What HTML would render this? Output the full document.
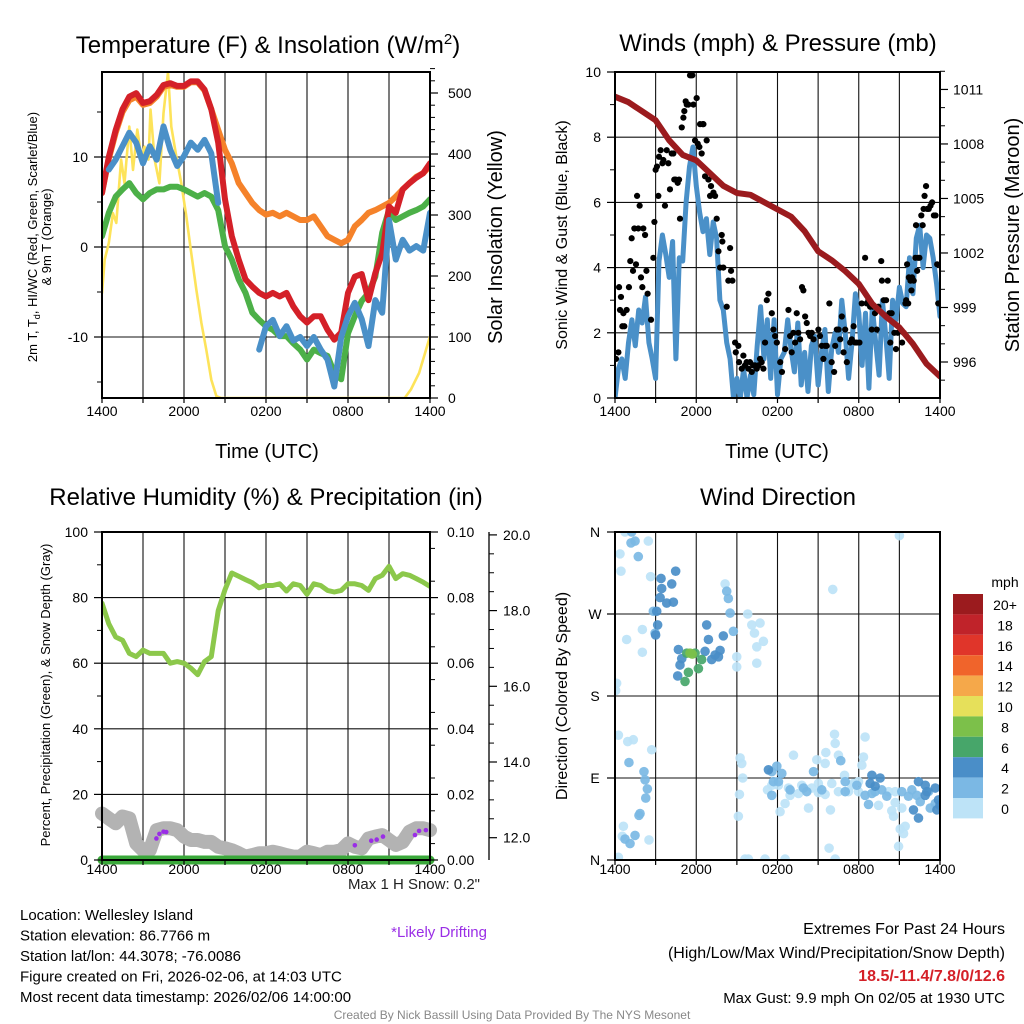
<!DOCTYPE html>
<html><head><meta charset="utf-8">
<style>
html,body{margin:0;padding:0;background:#fff;}
svg{display:block;font-family:"Liberation Sans",Arial,sans-serif;}
</style></head>
<body>
<svg id="c" width="1024" height="1024" viewBox="0 0 1024 1024" xmlns="http://www.w3.org/2000/svg"></svg>
<script>
// ---------- DATA ----------
const tRed=[6,10,13,15.3,16.7,17.1,16,16.2,16.9,18,18.2,17.9,17.9,18.4,18.4,17.5,15.3,11.6,5.3,1.2,-1.4,-3.6,-4.4,-5.1,-5.5,-5.1,-5.5,-5.1,-6.6,-7.7,-8.4,-7.7,-7.7,-9.2,-10.3,-9.5,-5.1,-3.3,-3,-5.9,-2.9,-0.7,4.5,3.8,6.4,7.1,7.7,8.2,9.3];
const tOrange=[6,9.8,12.7,15,16.3,16.7,15.8,16,16.7,17.8,18,17.8,17.8,18.3,18.3,17.4,15.3,13,10.8,9.3,7.1,6,4.9,4.1,3.6,3.8,3.4,3.8,3.4,3,3,3.4,2.3,1.2,0.8,0.4,0.8,2.3,3,3.8,4.1,4.5,4.9,5.6,6.4,7.1,7.8,8.2,9];
const tGreen=[1.2,3.8,5.6,6.4,7.1,6,5.3,6,6.4,6.4,6.7,6.7,6.4,6,5.6,6,5.6,4.1,0.1,-1.4,-3.6,-5.1,-7.3,-8.1,-8.8,-9.2,-9.9,-9.9,-10.7,-11.4,-12.5,-11.4,-11.8,-12.1,-14,-14.7,-9.6,-7.7,-6,-5.1,-3.3,1.6,4.1,3,3.4,3.8,4.1,4.5,5.3];
const tBlue=[null,8.6,9.7,11.2,12.7,11.6,9.3,11.2,9.7,13.4,10.8,9,10.1,11.6,10.8,11.9,10.4,4.9,null,null,null,null,null,-11.4,-8.8,-8.1,-9.9,-8.8,-10.4,-10,-11,-10,-11.4,-12.5,-15.5,-10,-7.7,-6.2,-8,-11,-5.9,-7.3,3,-1.4,0.8,-0.4,0.1,-0.4,3.8];
const solHours=[0,0.2,0.5,0.8,1.05,1.4,1.65,2.0,2.27,2.58,2.9,3.1,3.4,3.55,3.85,4.2,4.5,4.83,5.07,5.44,5.8,6.17,6.5,6.9,7.27,7.63,8.0,8.37,8.7,22.15,22.6,23.2,24];
const solVals=[172,227,254,303,287,391,352,445,374,440,391,412,391,473,391,352,467,534,445,396,352,298,243,178,123,79,30,3,0,0,14,41,101];

const windSpd=[0,0.9,1.2,0.6,1.7,2.4,1.6,2.7,2.3,3.1,1.7,1.2,0.6,4.2,5,4.4,3.7,4.8,1.2,4.3,4.2,6,7.1,7.7,6.5,5.7,5.1,5.5,4.4,5.4,4.9,3,2.7,1.7,1.2,0,0.6,0,0.9,0,0.7,0.1,1.6,2.8,1.2,2.4,0.6,2.4,0.1,1.2,1.4,2.4,1.5,0.8,2.3,0.4,1.4,0.2,1.6,1.9,0.4,1.4,2.1,0.2,1.5,2,1.4,3,2,0.6,1.7,3.2,2.6,1,2.6,0.3,2.8,1.7,0.7,3,1.9,0.6,3,2.4,3.4,2.9,2.8,4.3,3.2,4.9,5.3,4.0,5,4.9,4.3,3.5,2.5];
const pHours=[0,1,2,3,4,5,6,7,8,9,10,11,12,13,14,15,16,17,18,19,20,21,22,23,24];
const pVals=[1010.6,1010.3,1009.8,1009.3,1008.2,1007.4,1007.1,1006.4,1005.7,1005.3,1005.2,1004.8,1004.4,1004,1003.2,1002.1,1001.6,1001,1000.3,999.2,998.5,997.9,997,995.9,995.2];
const gustHours=[0.07,0.25,0.3,0.37,0.44,0.54,0.62,0.69,0.86,1.03,1.13,1.23,1.33,1.43,1.55,1.63,1.72,1.82,1.92,2.02,2.09,2.22,2.32,2.41,2.66,2.83,2.91,3.0,3.1,3.2,3.25,3.37,3.5,3.57,3.69,3.82,3.94,4.06,4.19,4.31,4.38,4.48,4.63,4.73,4.8,4.93,5.05,5.12,5.22,5.3,5.42,5.54,5.62,5.71,5.79,5.91,6.03,6.11,6.23,6.28,6.4,6.48,6.53,6.65,6.77,6.9,7.02,7.09,7.19,7.27,7.39,7.51,7.64,7.76,7.88,7.93,8.0,8.25,8.37,8.5,8.57,8.67,8.87,8.92,9.11,9.16,9.36,9.48,9.6,9.72,9.85,9.97,10.1,10.2,10.34,10.47,10.6,10.71,10.83,10.96,11.08,11.21,11.33,11.58,11.7,11.82,11.95,12.2,12.33,12.57,12.81,12.93,13.05,13.17,13.3,13.42,13.54,13.67,13.81,13.91,14.04,14.16,14.29,14.41,14.53,14.66,15.02,15.14,15.27,15.39,15.51,15.64,15.83,16.0,16.18,16.26,16.38,16.51,16.63,16.75,16.88,17.0,17.12,17.37,17.49,17.62,17.74,17.86,18.05,18.22,18.47,18.59,18.71,18.84,18.96,19.03,19.2,19.33,19.45,19.66,19.71,19.85,20.02,20.14,20.26,20.33,20.43,20.63,20.75,20.88,21.2,21.32,21.45,21.5,21.57,21.65,21.7,21.82,21.89,21.94,22.06,22.18,22.23,22.31,22.38,22.48,22.62,22.72,22.79,22.86,22.97,23.05,23.17,23.3,23.42,23.55,23.67,23.79,23.87];
const gustVals=[1.2,1.4,3.4,2.7,3.1,2.2,2.6,2.2,2.7,3.4,4.2,4.9,3.9,5.2,4.1,6.2,5.2,5.9,3.7,3.4,5.2,5.0,3.9,3.2,2.4,4.3,5.4,7.0,7.1,6.2,7.4,7.6,7.2,7.3,5.9,7.6,7.2,6.4,7.5,7.5,6.7,6.7,6.6,6.7,5.5,8.3,8.6,8.8,9.1,9.0,9.0,9.9,9.9,9.9,9.0,7.9,9.2,7.8,7.7,8.4,7.5,8.4,8.4,6.8,7.9,6.7,6.2,6.5,6.8,6.3,6.2,5.5,4.5,4.0,5.0,4.8,4.0,2.8,3.6,4.6,3.9,3.6,1.7,1.4,1.6,1.1,0.9,1.3,1.0,1.1,0.9,1.1,0.8,1.0,1.0,0.9,1.0,1.2,1.1,0.9,1.7,3.0,3.2,2.6,2.1,1.9,1.7,1.1,0.8,1.5,2.7,1.9,1.4,2.0,1.7,2.6,2.0,1.8,3.4,3.3,2.5,2.3,2.0,1.9,2.0,1.8,2.1,1.9,1.6,1.2,1.6,1.6,2.9,1.1,0.8,1.6,2.1,2.1,1.8,2.5,1.4,2.1,1.1,1.7,1.8,2.2,1.7,1.7,1.7,2.9,4.3,2.9,3.0,2.8,2.1,2.8,2.6,2.1,2.8,4.2,3.6,3.0,3.0,3.6,2.6,1.7,2.6,2.0,1.5,2.0,1.7,2.0,2.9,3.0,4.1,2.9,3.7,3.6,3.3,3.7,3.6,4.3,5.3,3.9,4.3,4.3,5.6,5.3,5.8,6.2,6.5,5.8,5.8,5.9,6.0,5.6,5.6,4.1,2.9];

const rhVals=[78.3,72,68,67,63,62,64,63,63,63,60,60.5,60,58.5,56.5,60.5,62,76,82.4,87.5,86.5,85.5,84.5,83,83.7,83.7,84.2,82,84.2,83.7,81,84.2,83.7,82.2,81.7,82.2,84.2,84.2,83.7,82.2,85.8,86.8,89.5,85.8,87.3,86.8,85.8,84.7,83.4];
const precipVals=[0,0,0,0,0,0,0,0,0,0,0,0,0,0,0,0,0,0,0,0,0,0,0,0,0,0,0,0,0,0,0,0,0,0,0,0,0,0,0,0,0,0,0,0,0,0,0,0,0];
const snowVals=[12.64,12.51,12.38,12.56,12.51,11.85,11.67,11.67,12.2,12.25,12.25,12.2,12.03,11.94,11.94,11.89,11.89,11.76,11.72,11.67,11.59,11.5,11.54,11.59,11.59,11.63,11.59,11.54,11.5,11.5,11.63,11.59,11.54,11.63,11.63,11.67,11.85,11.76,11.72,11.98,12.03,12.07,11.94,11.81,11.89,12.16,12.25,12.25,12.2];
const driftHours=[3.98,4.2,4.5,4.7,18.5,19.7,20.1,20.56,22.9,23.2,23.7];
const driftVals=[11.98,12.1,12.16,12.15,11.8,11.92,11.95,12.03,12.07,12.18,12.2];

const dirHours=[0.74,0.37,0.44,2.46,2.63,2.02,0.86,2.02,8.13,9.8,10.1,10.71,10.3,10.96,10.47,10.47,8.99,8.99,0.12,0.05,0.25,0.94,1.35,2.71,9.24,9.36,9.43,9.19,9.11,0.62,0.54,2.51,0.25,0,9.6,9.85,11.08,12.56,16.26,16.08,21.0,13.18,12.19,12.56,12.93,13.55,14.29,15.02,15.52,16.01,15.91,16.21,16.26,15.57,14.9,15.52,16.5,16.95,17.61,17.98,18.23,18.47,18.35,17.98,19.46,20.44,20.57,20.69,21.06,21.43,21.31,20.94,15.81,11.58,11.26,12.07,12.81,13.79,14.53,15.02,16.5,17.24,17.49,20.2,20.69,21.18,
1.23,1.48,1.72,1.18,2.83,2.96,8.25,8.37,8.5,8.74,1.03,2.14,2.22,2.39,2.27,1.85,1.77,0.74,1.11,1.48,11.58,11.7,12.32,12.93,13.92,14.16,15.27,17.0,18.47,18.72,18.97,19.21,19.7,20.07,21.18,21.92,22.29,22.54,23.15,23.28,23.65,11.58,12.07,11.95,16.67,17.0,14.66,17.86,21.67,
3.4,4.19,3.45,3.33,3.82,4.31,3.08,3.15,3.0,4.48,6.77,6.9,8.0,7.14,7.39,7.76,7.64,6.65,4.68,4.93,4.8,4.63,11.33,18.97,19.58,22.41,22.91,23.65,23.03,23.89,23.77,24,22.41,22.04,18.84,19.21,22.91,
5.42,5.17,6.16,6.4,5.91,5.3,5.54,5.71];
const dirDeg=[360,336,317,350,311,253,242,228,303,270,258,260,249,240,234,216,223,212,194,186,137,130,132,121,112,106,90,72,48,37,26,22,3,1,1,1,1,1,1,297,356,115,53,62,71,73,57,74,72,84,55,138,128,118,110,106,115,93,84,86,104,135,113,75,60,54,48,63,34,37,29,15,13,82,77,82,79,82,79,84,75,75,82,75,75,57,
360,350,333,348,273,249,295,287,271,251,107,97,88,78,68,51,49,23,18,27,97,86,95,77,79,75,77,75,71,61,73,75,77,70,75,77,71,64,75,57,62,71,86,103,109,86,97,82,70,
309,303,298,288,282,283,273,258,247,317,258,242,246,220,225,230,223,229,231,221,214,202,99,93,90,86,82,79,75,66,55,60,46,55,84,81,71,
206,196,210,220,227,227,227,226];
const dirSpeed=[1,1,1,1,1,1,1,1,1,1,1,1,1,1,1,1,1,1,1,1,1,1,1,1,1,1,1,1,1,1,1,1,1,1,1,1,1,1,1,1,1,1,1,1,1,1,1,1,1,1,1,1,1,1,1,1,1,1,1,1,1,1,1,1,1,1,1,1,1,1,1,1,1,1,1,1,1,1,1,1,1,1,1,1,1,1,
3,3,3,3,3,3,3,3,3,3,3,3,3,3,3,3,3,3,3,3,3,3,3,3,3,3,3,3,3,3,3,3,3,3,3,3,3,3,3,3,3,3,3,3,3,3,3,3,3,
5,5,5,5,5,5,5,5,5,5,5,5,5,5,5,5,5,5,5,5,5,5,5,5,5,5,5,5,5,5,5,5,5,5,5,5,5,
7,7,7,7,7,7,9,9];
const cbLabels=["20+","18","16","14","12","10","8","6","4","2","0"];
const cbColors=["#9b1b1e","#c0232a","#e0352a","#f0642b","#f5a84a","#e6e05a","#7cc04a","#47a66a","#4a8ec8","#7bb8e4","#bde3f7"];
const timeLabels=["1400","2000","0200","0800","1400"];

// ---------- DRAW ----------
const NS="http://www.w3.org/2000/svg";
const svg=document.getElementById('c');
function mk(tag,attrs,parent){const e=document.createElementNS(NS,tag);for(const k in attrs)e.setAttribute(k,attrs[k]);(parent||svg).appendChild(e);return e;}
function txt(s,x,y,size,anchor,parent,extra){const e=mk('text',Object.assign({x:x,y:y,'font-size':size,'text-anchor':anchor||'middle',fill:'#000'},extra||{}),parent);e.textContent=s;return e;}
function halfHours(n){const a=[];for(let i=0;i<n;i++)a.push(i*0.5);return a;}
function pathFrom(xs,ys,xf,yf){let d='',pen=false;for(let i=0;i<xs.length;i++){if(ys[i]===null||ys[i]===undefined){pen=false;continue;}d+=(pen?'L':'M')+xf(xs[i]).toFixed(1)+' '+yf(ys[i]).toFixed(1);pen=true;}return d;}

function panel(name,x0,x1,y0,y1){
  const g=mk('g',{});
  
  
  const clipId=name+'-clip';
  const cp=mk('clipPath',{id:clipId},g);mk('rect',{x:x0,y:y0,width:x1-x0,height:y1-y0},cp);
  return {g:g,x0:x0,x1:x1,y0:y0,y1:y1,clip:'url(#'+clipId+')',xh:h=>x0+h*(x1-x0)/24};
}
function grid(P,hy){
  const gg=mk('g',{},P.g);
  
  
  for(let i=1;i<8;i++){const x=P.xh(i*3);mk('line',{x1:x,x2:x,y1:P.y0,y2:P.y1,stroke:'#111','stroke-width':1.1},gg);}
  hy.forEach(y=>mk('line',{x1:P.x0,x2:P.x1,y1:y,y2:y,stroke:'#111','stroke-width':1.1},gg));
}
function frame(P,lblOff){
  const f=mk('rect',{x:P.x0,y:P.y0,width:P.x1-P.x0,height:P.y1-P.y0,fill:'none',stroke:'#000','stroke-width':2},P.g);
  
  
  const xa=mk('g',{},P.g);
  
  
  for(let i=0;i<=8;i++){const x=P.xh(i*3);mk('line',{x1:x,x2:x,y1:P.y1,y2:P.y1+5,stroke:'#000','stroke-width':1.2},xa);}
  timeLabels.forEach((s,i)=>{const t=txt(s,P.xh(i*6),P.y1+lblOff,14,'middle',xa);});
}
function leftTicks(P,vals,labels,yf,minor){
  const a=mk('g',{},P.g);
  
  
  vals.forEach((v,i)=>{const y=yf(v);mk('line',{x1:P.x0-8,x2:P.x0,y1:y,y2:y,stroke:'#000','stroke-width':1.2},a);const t=txt(labels[i],P.x0-14,y+5,14,'end',a);});
  (minor||[]).forEach(v=>{const y=yf(v);mk('line',{x1:P.x0-5,x2:P.x0,y1:y,y2:y,stroke:'#000','stroke-width':1},a);});
}
function rightTicks(P,vals,labels,yf,minor,xoff){
  const a=mk('g',{},P.g);
  
  
  vals.forEach((v,i)=>{const y=yf(v);mk('line',{x1:P.x1,x2:P.x1+8,y1:y,y2:y,stroke:'#000','stroke-width':1.2},a);const t=txt(labels[i],P.x1+(xoff||13),y+5,14,'start',a);});
  (minor||[]).forEach(v=>{const y=yf(v);mk('line',{x1:P.x1,x2:P.x1+5,y1:y,y2:y,stroke:'#000','stroke-width':1},a);});
}
function series(P,name,xs,ys,yf,color,w){
  const p=mk('path',{d:pathFrom(xs,ys,P.xh,yf),fill:'none',stroke:color,'stroke-width':w,'stroke-linejoin':'round','stroke-linecap':'round','clip-path':P.clip},P.g);
  
  
  return p;
}
function rotLabel(s,x,y,size,name,deg){const t=txt(s,x,y,size,'middle',svg,{transform:'rotate('+(deg||-90)+' '+x+' '+y+')'});return t;}
function title(s,x,y,name){const t=txt(s,x,y,24,'middle');return t;}

const HH=halfHours(49);

// ===== Panel 1: Temperature =====
{
const P=panel('temperature-panel',102,430,72,398);
const yT=v=>247-9*v, yS=w=>398-0.61*w;
grid(P,[yT(10),yT(0),yT(-10)]);
series(P,'insolation-line',solHours,solVals,yS,'#fde35a',2.6);
series(P,'temp-9m-line',HH,tOrange,yT,'#f5822a',6);
series(P,'dewpoint-line',HH,tGreen,yT,'#4cb048',6);
series(P,'temp-2m-line',HH,tRed,yT,'#d42028',6);
series(P,'heat-index-windchill-line',HH,tBlue,yT,'#4a90c8',6);
frame(P,18);
leftTicks(P,[10,0,-10],['10','0','-10'],yT,[15,5,-5,-15]);
const minors=[];for(let w=20;w<=540;w+=20)if(w%100)minors.push(w);
rightTicks(P,[0,100,200,300,400,500],['0','100','200','300','400','500'],yS,minors,18);
const t=mk('text',{x:268,y:53,'font-size':24,'text-anchor':'middle'});
t.innerHTML='Temperature (F) &amp; Insolation (W/m<tspan dy="-9" font-size="15">2</tspan><tspan dy="9">)</tspan>';
txt('Time (UTC)',267,458,20);
const l=mk('text',{x:37,y:237,'font-size':13,'text-anchor':'middle',transform:'rotate(-90 37 237)'});
l.innerHTML='2m T, T<tspan dy="3" font-size="9">d</tspan><tspan dy="-3">, HI/WC (Red, Green, Scarlet/Blue)</tspan>';
rotLabel('& 9m T (Orange)',51,237,13,'temperature-y-axis-title-line2');
rotLabel('Solar Insolation (Yellow)',502,237,20,'insolation-axis-title');
}

// ===== Panel 2: Winds =====
{
const P=panel('winds-panel',615,940,72,398);
const yW=v=>398-32.6*v, yP=p=>362-(p-996)*18.17;
grid(P,[yW(2),yW(4),yW(6),yW(8)]);
series(P,'sonic-wind-line',windSpd.map((_,i)=>i*0.25),windSpd,yW,'#4a90c8',5);
const gg=mk('g',{'clip-path':P.clip},P.g);


gustHours.forEach((h,i)=>{const c=mk('circle',{cx:P.xh(h),cy:yW(gustVals[i]),r:3.1,fill:'#000'},gg);});
series(P,'pressure-line',pHours,pVals,yP,'#9b1b1e',6);
frame(P,18);
leftTicks(P,[0,2,4,6,8,10],['0','2','4','6','8','10'],yW,[1,3,5,7,9]);
const mn=[];for(let p=995;p<=1012;p++)if(p%3)mn.push(p);
rightTicks(P,[996,999,1002,1005,1008,1011],['996','999','1002','1005','1008','1011'],yP,mn);
title('Winds (mph) & Pressure (mb)',778,51,'winds-title');
txt('Time (UTC)',777,458,20);
rotLabel('Sonic Wind & Gust (Blue, Black)',567,235,16,'wind-y-axis-title');
rotLabel('Station Pressure (Maroon)',1019,235,20,'pressure-axis-title');
}

// ===== Panel 3: RH =====
{
const P=panel('humidity-panel',102,430,532,860);
const yR=v=>860-3.28*v, yIn=v=>860-3280*v, ySn=d=>837.7-(d-12)*37.85;
grid(P,[yR(20),yR(40),yR(60),yR(80)]);
const snowP=mk('path',{d:pathFrom(HH,snowVals,P.xh,ySn),fill:'none',stroke:'#b3b3b3','stroke-width':14,'stroke-linejoin':'round','stroke-linecap':'round'},P.g);


series(P,'relative-humidity-line',HH,rhVals,yR,'#8cc84b',5);
const pr=mk('path',{d:pathFrom(HH,precipVals,P.xh,yIn),fill:'none',stroke:'#3aa83a','stroke-width':9,'stroke-linecap':'round'},P.g);


const dg=mk('g',{},P.g);


driftHours.forEach((h,i)=>{const c=mk('circle',{cx:P.xh(h),cy:ySn(driftVals[i]),r:2.3,fill:'#9a2ee6'},dg);});
frame(P,14);
leftTicks(P,[0,20,40,60,80,100],['0','20','40','60','80','100'],yR,[10,30,50,70,90]);
const mn=[];for(let v=0.005;v<0.1;v+=0.01)mn.push(v);
rightTicks(P,[0,0.02,0.04,0.06,0.08,0.1],['0.00','0.02','0.04','0.06','0.08','0.10'],yIn,mn,17);
const ax=mk('g',{});
mk('line',{x1:489,x2:489,y1:532,y2:860,stroke:'#000','stroke-width':1.3},ax);
[12,14,16,18,20].forEach(d=>{const y=ySn(d);mk('line',{x1:489,x2:497,y1:y,y2:y,stroke:'#000','stroke-width':1.2},ax);const t=txt(d.toFixed(1),503,y+5,14,'start',ax);});
[12.5,13,13.5,14.5,15,15.5,16.5,17,17.5,18.5,19,19.5].forEach(d=>{const y=ySn(d);mk('line',{x1:489,x2:494,y1:y,y2:y,stroke:'#000','stroke-width':1},ax);});
title('Relative Humidity (%) & Precipitation (in)',266,505,'humidity-title');
rotLabel('Percent, Precipitation (Green), & Snow Depth (Gray)',50,695,13,'humidity-y-axis-title');
}

// ===== Panel 4: Wind direction =====
{
const P=panel('wind-direction-panel',615,940,532,860);
const yD=d=>860-d*(328/360);
grid(P,[yD(90),yD(180),yD(270)]);
const colorFor=s=>cbColors[10-Math.min(10,Math.floor(s/2))];
const sg=mk('g',{'clip-path':P.clip},P.g);


dirHours.forEach((h,i)=>{const c=mk('circle',{cx:P.xh(h),cy:yD(dirDeg[i]),r:4.8,fill:colorFor(dirSpeed[i]),'fill-opacity':0.92},sg);});
frame(P,14);
const a=mk('g',{},P.g);


[[0,'N'],[90,'E'],[180,'S'],[270,'W'],[360,'N']].forEach(([d,s])=>{const y=yD(d);mk('line',{x1:P.x0-8,x2:P.x0,y1:y,y2:y,stroke:'#000','stroke-width':1.2},a);txt(s,P.x0-20,y+5,14,'middle',a);});
title('Wind Direction',778,505,'wind-direction-title');
rotLabel('Direction (Colored By Speed)',567,696,16,'direction-y-axis-title');
const cb=mk('g',{});
cbLabels.forEach((s,i)=>{const y=594+i*20.4;const r=mk('rect',{x:953,y:y,width:30,height:20.4,fill:cbColors[i]},cb);txt(s,1005,y+16,14,'middle',cb);});
txt('mph',1005,587,14,'middle',cb);
}

// ===== Footer text =====
const info=["Location: Wellesley Island","Station elevation: 86.7766 m","Station lat/lon: 44.3078; -76.0086","Figure created on Fri, 2026-02-06, at 14:03 UTC","Most recent data timestamp: 2026/02/06 14:00:00"];
const ig=mk('g',{});
info.forEach((s,i)=>txt(s,20,920+i*20.5,15,'start',ig));
const sn=txt('Max 1 H Snow: 0.2"',480,889,15,'end',svg,{fill:'#222'});
const dr=txt('*Likely Drifting',487,937,15,'end',svg,{fill:'#9a2ee6'});
const eg=mk('g',{});
txt('Extremes For Past 24 Hours',1005,934,16,'end',eg);
txt('(High/Low/Max Wind/Precipitation/Snow Depth)',1005,958,16,'end',eg);
txt('18.5/-11.4/7.8/0/12.6',1005,981,16,'end',eg,{fill:'#d42028','font-weight':'bold'});
txt('Max Gust: 9.9 mph On 02/05 at 1930 UTC',1005,1003,15,'end',eg);
const cr=txt('Created By Nick Bassill Using Data Provided By The NYS Mesonet',512,1019,12,'middle',svg,{fill:'#888'});
</script>
</body></html>
